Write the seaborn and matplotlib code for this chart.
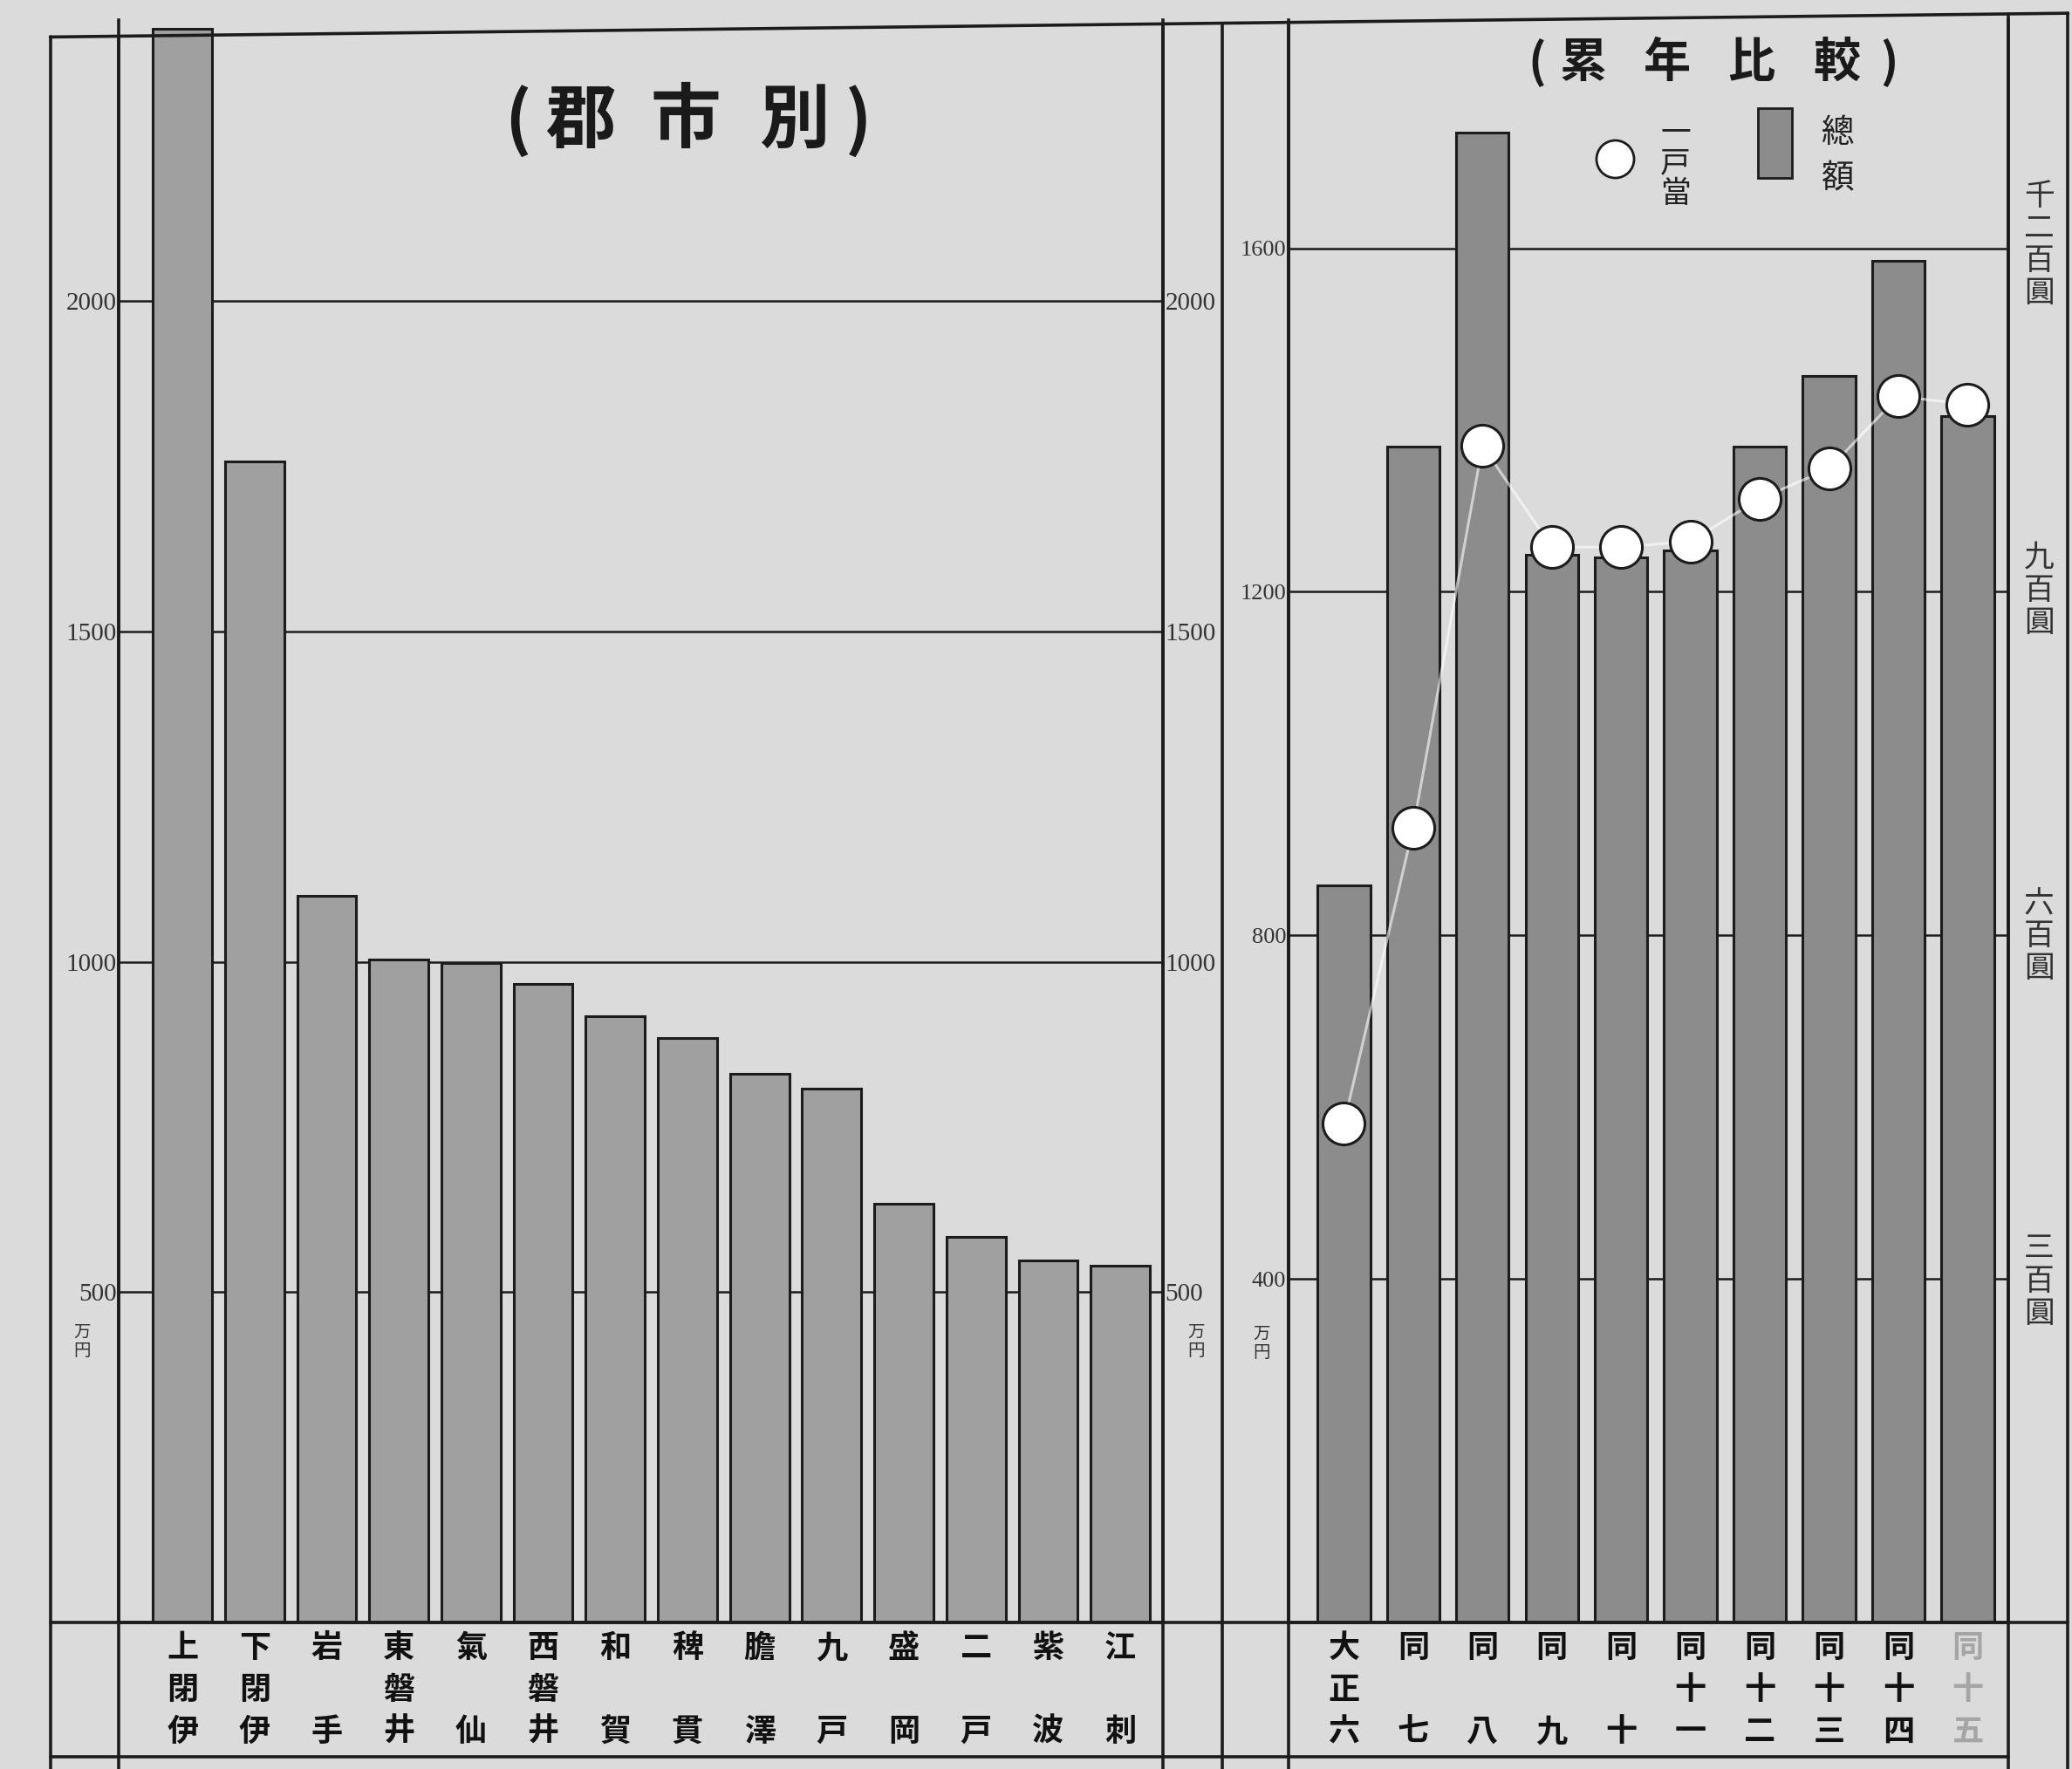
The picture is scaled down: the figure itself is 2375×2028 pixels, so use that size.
import numpy as np
import matplotlib.pyplot as plt
import seaborn as sns
from matplotlib.lines import Line2D
from matplotlib.patches import Rectangle

# ---- data (totals in 万円, per-household in 圓) ----
gun_names = ['上閉伊', '下閉伊', '岩手', '東磐井', '氣仙', '西磐井', '和賀',
             '稗貫', '膽澤', '九戸', '盛岡', '二戸', '紫波', '江刺']
gun_totals = [2412, 1758, 1100, 1003, 998, 966, 918, 884, 830, 808, 634, 584, 548, 540]

years = ['大正六', '同七', '同八', '同九', '同十', '同十一', '同十二', '同十三', '同十四', '同十五']
year_totals = [858, 1369, 1735, 1243, 1240, 1248, 1369, 1451, 1585, 1405]
year_per_house = [433, 690, 1022, 934, 934, 939, 976, 1002, 1065, 1058]

left_ticks = [500, 1000, 1500, 2000]
right_ticks = [400, 800, 1200, 1600]
house_ticks = [300, 600, 900, 1200]
house_tick_labels = ['三百圓', '六百圓', '九百圓', '千二百圓']

BG = '#dbdbdb'
BAR_L = '#a0a0a0'
BAR_R = '#8c8c8c'
INK = '#1c1c1c'

sns.set_theme(style='white')
plt.rcParams['font.family'] = ['Noto Sans CJK JP', 'DejaVu Sans']

# layout grid of the reference picture
W, H = 1568, 1339


def fx(x):
    return x / W


def fy(y):
    return 1 - y / H


def box(x0, y0, x1, y1):
    return [fx(x0), fy(y1), fx(x1) - fx(x0), fy(y0) - fy(y1)]


def stack(name):
    # vertical label: 2-char names leave the middle row empty
    chars = list(name)
    if len(chars) == 2:
        chars = [chars[0], '', chars[1]]
    return '\n'.join(chars)


fig = plt.figure(figsize=(23.75, 20.28), dpi=100, facecolor=BG)

# ---------- left panel: by county ----------
axL = fig.add_axes(box(90, 15, 880, 1228))
axL.set_facecolor(BG)
sns.barplot(x=gun_names, y=gun_totals, ax=axL, color=BAR_L, saturation=1,
            width=0.82, edgecolor=INK, linewidth=2.2)
axL.set_xlim(-0.88, 13.59)
axL.set_ylim(0, 2426)
axL.set_xlabel('')
axL.set_ylabel('')
axL.set_yticks(left_ticks, labels=[str(v) for v in left_ticks])
axL.yaxis.grid(True, color=INK, lw=1.8)
axL.set_axisbelow(True)
axL.tick_params(axis='y', left=True, right=True, labelleft=True, labelright=True,
                direction='in', length=0, labelsize=21, pad=2,
                labelfontfamily='Liberation Serif', labelcolor='#333')
axL.set_xticks(range(len(gun_names)), labels=[stack(n) for n in gun_names])
axL.tick_params(axis='x', length=0, pad=8, labelsize=26, labelcolor='#111')
for t in axL.get_xticklabels():
    t.set_fontweight('bold')
    t.set_linespacing(1.38)
axL.spines['top'].set_visible(False)
for s in ['left', 'right', 'bottom']:
    axL.spines[s].set_color(INK)
    axL.spines[s].set_linewidth(2.6)

tL = axL.get_yaxis_transform()
axL.text(-0.035, 425, '万\n円', transform=tL, fontsize=14, ha='center', va='center',
         linespacing=1.0, color='#333')
axL.text(1.032, 425, '万\n円', transform=tL, fontsize=14, ha='center', va='center',
         linespacing=1.0, color='#333')

# ---------- right panel: year comparison ----------
axR = fig.add_axes(box(975, 15, 1520, 1228))
axR.set_facecolor(BG)
sns.barplot(x=years, y=year_totals, ax=axR, color=BAR_R, saturation=1,
            width=0.76, edgecolor=INK, linewidth=2.2)
axR.set_xlim(-0.80, 9.59)
axR.set_ylim(0, 1866)
axR.set_xlabel('')
axR.set_ylabel('')
axR.set_yticks(right_ticks, labels=[str(v) for v in right_ticks])
axR.yaxis.grid(True, color=INK, lw=1.8)
axR.set_axisbelow(True)
axR.tick_params(axis='y', left=True, direction='in', length=0, labelsize=19, pad=2,
                labelfontfamily='Liberation Serif', labelcolor='#333')
axR.set_xticks(range(len(years)), labels=[stack(n) for n in years])
axR.tick_params(axis='x', length=0, pad=8, labelsize=26, labelcolor='#111')
for t in axR.get_xticklabels():
    t.set_fontweight('bold')
    t.set_linespacing(1.38)
axR.get_xticklabels()[-1].set_color('#a5a5a5')
axR.spines['top'].set_visible(False)
for s in ['left', 'right', 'bottom']:
    axR.spines[s].set_color(INK)
    axR.spines[s].set_linewidth(2.6)
axR.text(-0.037, 325, '万\n円', transform=axR.get_yaxis_transform(), fontsize=14,
         ha='center', va='center', linespacing=1.0, color='#333')

axR2 = axR.twinx()
pos = np.arange(len(years))
sns.lineplot(x=pos, y=year_per_house, ax=axR2, color='white', lw=2.2, alpha=0.6,
             zorder=4)
sns.scatterplot(x=pos, y=year_per_house, ax=axR2, s=1200, color='white',
                edgecolor=INK, linewidth=2.2, zorder=5)
axR2.set_ylim(0, 1392)
axR2.set_ylabel('')
axR2.set_yticks(house_ticks, labels=['\n'.join(s) for s in house_tick_labels])
axR2.tick_params(axis='y', right=True, direction='in', length=0, labelsize=25,
                 pad=25, labelcolor='#333')
for t in axR2.get_yticklabels():
    t.set_ha('center')
    t.set_linespacing(1.08)
for s in axR2.spines.values():
    s.set_visible(False)

# ---------- titles and legend ----------
for ch, xc in zip('(郡市別)', [392, 439, 519, 601, 650]):
    fig.text(fx(xc), fy(92), ch, fontsize=58, fontweight='bold', ha='center',
             va='center', color='#1a1a1a')
for ch, xc in zip('(累年比較)', [1163, 1198, 1262, 1325, 1390, 1430]):
    fig.text(fx(xc), fy(48), ch, fontsize=39, fontweight='bold', ha='center',
             va='center', color='#1a1a1a')
fig.add_artist(Line2D([fx(1222)], [fy(120)], transform=fig.transFigure, marker='o',
                      ms=31, mfc='white', mec=INK, mew=2, ls=''))
fig.text(fx(1268), fy(124), '一\n戸\n當', fontsize=25, ha='center', va='center',
         linespacing=1.0, color='#222')
fig.add_artist(Rectangle((fx(1330), fy(135)), fx(26), fy(82) - fy(135),
                         transform=fig.transFigure, facecolor=BAR_R, edgecolor=INK, lw=2))
fig.text(fx(1390), fy(118), '總\n額', fontsize=27, ha='center', va='center',
         linespacing=1.45, color='#222')


# ---------- printed frame lines ----------
def top_y(x):
    return 28 - 18 * (x - 38) / 1527


def frame(xs, ys, lw=2.6):
    fig.add_artist(Line2D([fx(v) for v in xs], [fy(v) for v in ys],
                          transform=fig.transFigure, color=INK, lw=lw))


frame([38, 1565], [top_y(38), top_y(1565)])
for xv in [38, 90, 880, 925, 975, 1520, 1565]:
    frame([xv, xv], [top_y(xv), 1339])
frame([38, 1565], [1228, 1228])
frame([38, 1520], [1330, 1330])

fig.savefig('out.png', dpi=100, facecolor=BG)
